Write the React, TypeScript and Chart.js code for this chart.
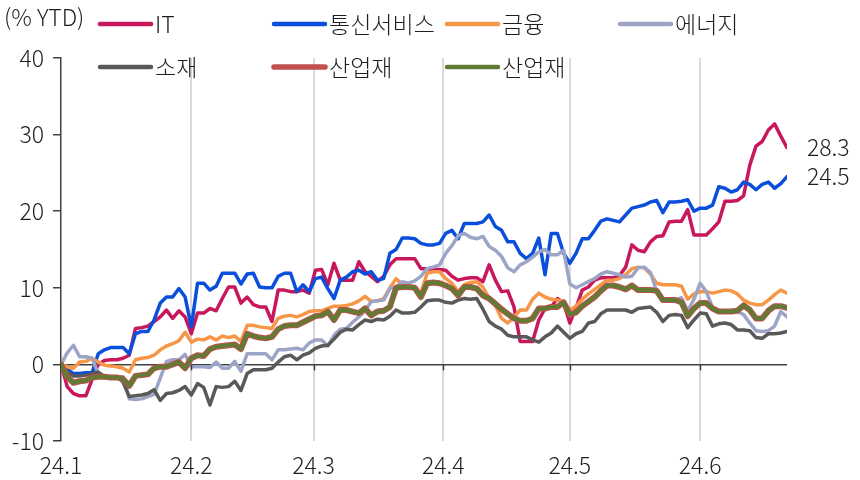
import React, { useEffect, useRef } from "react";
import { Chart, registerables } from "chart.js";

Chart.register(...registerables);

const monthLabels = ["24.1", "24.2", "24.3", "24.4", "24.5", "24.6"];
// trading-day index at which each month starts
const monthStarts = [0, 21, 40.7, 61.6, 82, 103];

const itValues = [
  0, -2.9, -3.8, -4.1, -4.1, -2.0, 0.0, 0.5, 0.6, 0.6, 0.8, 1.2, 4.7, 4.8, 5.0, 5.6, 6.2, 7.1, 6.0, 7.0,
  6.2, 4.0, 6.7, 6.7, 7.3, 7.0, 8.6, 10.1, 10.1, 8.0, 8.8, 7.8, 7.5, 7.5, 5.6, 9.7, 9.7, 9.5, 9.5, 9.7,
  9.3, 12.3, 12.4, 10.4, 13.2, 11.0, 11.0, 11.0, 13.4, 12.1, 11.5, 10.8, 11.5, 13.0, 13.8, 13.8, 13.8, 13.8, 12.5, 12.5,
  12.4, 12.4, 12.3, 11.5, 11.0, 11.2, 11.3, 11.3, 10.8, 13.0, 11.0, 9.5, 9.6, 7.5, 3.0, 3.0, 3.0, 5.8, 7.3, 7.5,
  8.6, 8.0, 5.4, 7.4, 9.7, 10.1, 11.0, 11.3, 11.3, 11.3, 11.6, 12.7, 15.6, 14.9, 14.7, 16.0, 16.7, 16.8, 18.6, 18.7,
  18.7, 20.2, 16.9, 16.9, 16.9, 17.7, 18.6, 21.3, 21.3, 21.4, 22.0, 26.0, 28.5, 29.1, 30.6, 31.4, 29.8, 28.3,
];

const telecomValues = [
  0, -0.6, -1.2, -1.2, -1.1, -1.1, 1.4, 1.9, 2.2, 2.2, 2.2, 1.4, 4.0, 4.3, 4.3, 5.8, 8.0, 8.8, 8.8, 9.9,
  8.8, 4.9, 10.6, 10.6, 9.7, 10.2, 11.9, 11.9, 11.9, 10.5, 11.8, 11.9, 10.1, 10.0, 10.0, 11.5, 11.9, 11.9, 9.5, 10.4,
  9.5, 11.2, 11.4, 9.9, 8.6, 11.0, 11.4, 12.1, 12.3, 11.8, 12.1, 11.0, 11.2, 14.5, 15.0, 16.5, 16.5, 16.4, 15.8, 15.6,
  15.6, 15.8, 17.1, 17.5, 16.4, 18.4, 18.4, 18.4, 18.6, 19.5, 18.0, 17.5, 16.0, 16.0, 14.5, 13.8, 14.5, 16.5, 11.7, 17.1,
  17.1, 14.5, 13.2, 14.5, 16.4, 16.4, 17.5, 18.7, 19.0, 18.8, 18.6, 19.5, 20.4, 20.6, 20.8, 21.2, 21.4, 19.8, 21.2, 21.2,
  21.3, 21.5, 20.0, 20.4, 20.4, 20.8, 23.2, 23.0, 22.5, 22.8, 23.8, 23.5, 22.8, 23.5, 23.8, 23.0, 23.6, 24.5,
];

const financeValues = [
  0, -0.3, -0.5, 0.3, 0.4, 0.8, 0.3, -0.1, -0.2, -0.3, -0.5, -1.0, 0.6, 0.8, 0.9, 1.2, 1.9, 2.4, 2.7, 3.1,
  4.2, 2.9, 3.3, 3.2, 3.6, 3.2, 3.7, 3.5, 3.7, 3.0, 5.1, 5.1, 4.9, 4.8, 4.7, 6.0, 6.3, 6.4, 6.2, 6.5,
  6.9, 7.0, 7.0, 7.3, 7.6, 7.6, 7.7, 7.9, 8.3, 8.9, 8.2, 8.3, 8.6, 10.0, 11.2, 10.4, 10.2, 10.0, 9.3, 11.9,
  12.1, 12.1, 11.2, 10.6, 9.5, 10.4, 10.7, 10.8, 10.1, 8.6, 7.7, 6.0, 5.4, 6.2, 7.1, 7.1, 8.5, 9.3, 8.8, 8.5,
  8.4, 8.2, 7.1, 7.6, 8.5, 9.2, 9.8, 10.4, 11.0, 11.0, 11.2, 11.7, 12.5, 12.7, 12.6, 11.8, 10.6, 10.4, 10.4, 10.4,
  10.2, 8.5, 9.2, 9.5, 9.5, 9.3, 9.5, 9.7, 9.6, 9.2, 8.4, 8.0, 7.8, 7.8, 8.4, 9.1, 9.7, 9.3,
];

const energyValues = [
  0, 1.5, 2.5, 1.0, 1.0, 0.8, -1.2, -1.6, -1.8, -1.6, -1.6, -4.5, -4.6, -4.5, -4.2, -3.9, -1.8, 0.4, 0.6, 0.6,
  1.3, -0.3, -0.3, -0.3, -0.4, 0.3, -0.5, -0.5, 0.4, -0.9, 1.4, 1.4, 1.4, 1.4, 0.6, 1.9, 1.9, 2.0, 2.1, 1.9,
  2.8, 3.2, 3.2, 2.4, 3.8, 4.6, 4.7, 5.5, 6.2, 7.0, 8.2, 8.3, 8.4, 9.9, 10.1, 10.8, 10.6, 10.9, 11.5, 12.5,
  12.7, 13.0, 14.5, 15.5, 16.8, 17.1, 16.6, 16.4, 16.7, 15.4, 14.9, 14.1, 12.6, 12.1, 13.0, 13.4, 14.0, 14.7, 15.0, 14.3,
  14.3, 14.9, 10.5, 10.0, 10.4, 10.8, 11.2, 11.8, 12.1, 11.9, 11.7, 11.4, 11.5, 12.6, 12.7, 12.0, 9.5, 8.4, 8.4, 8.4,
  8.7, 7.0, 8.5, 10.6, 9.5, 7.4, 6.9, 6.9, 6.9, 6.9, 6.5, 5.4, 4.4, 4.3, 4.4, 5.0, 6.9, 6.2,
];

const materialsValues = [
  0, -1.0, -1.5, -1.5, -1.4, -1.2, -1.0, -1.6, -1.6, -1.6, -2.3, -4.2, -4.1, -4.0, -3.8, -3.3, -4.7, -3.8, -3.7, -3.4,
  -2.9, -4.0, -2.5, -3.0, -5.3, -2.9, -3.0, -2.9, -2.2, -3.4, -1.2, -0.7, -0.7, -0.7, -0.5, 0.3, 1.0, 1.2, 0.6, 1.2,
  1.5, 2.1, 2.4, 2.5, 3.3, 4.2, 4.6, 4.5, 5.2, 5.8, 5.6, 5.9, 5.8, 6.3, 7.1, 6.7, 6.7, 6.8, 7.5, 8.3,
  8.4, 8.4, 8.1, 8.0, 8.4, 8.6, 8.5, 8.6, 7.2, 5.6, 5.0, 4.6, 3.8, 3.6, 3.6, 3.6, 3.2, 2.9, 3.6, 4.1,
  5.0, 4.2, 3.4, 4.0, 4.3, 5.4, 5.6, 6.6, 7.1, 7.1, 7.1, 7.1, 6.8, 7.3, 7.4, 7.5, 6.8, 5.6, 6.4, 6.5,
  6.4, 4.8, 5.8, 6.7, 6.6, 5.0, 5.3, 5.4, 5.2, 4.5, 4.5, 4.4, 3.5, 3.4, 4.0, 4.0, 4.1, 4.3,
];

const industrialsValues = [
  0, -1.6, -2.4, -2.2, -2.1, -1.7, -1.6, -1.6, -1.7, -1.7, -1.9, -2.8, -1.5, -1.4, -1.3, -0.5, -0.3, -0.3, 0.0, 0.3,
  -0.5, 0.8, 1.2, 1.1, 2.0, 2.3, 2.4, 2.5, 2.6, 2.0, 4.0, 3.7, 3.5, 3.4, 3.6, 4.6, 5.0, 5.1, 5.1, 5.5,
  5.9, 6.3, 6.4, 6.9, 5.8, 7.1, 7.1, 6.9, 6.7, 7.3, 6.4, 6.9, 7.0, 7.5, 10.0, 10.1, 10.1, 10.0, 8.8, 10.6,
  10.7, 10.6, 10.3, 9.9, 9.0, 10.1, 10.1, 9.9, 9.0, 8.6, 7.9, 7.2, 6.6, 6.0, 5.7, 5.7, 6.0, 7.3, 7.3, 7.5,
  7.5, 8.1, 6.5, 6.8, 7.6, 8.2, 8.8, 9.6, 10.3, 10.3, 10.1, 9.8, 10.3, 9.7, 9.7, 9.7, 9.6, 8.4, 8.4, 8.4,
  8.1, 6.3, 7.3, 8.0, 8.0, 7.3, 6.9, 6.9, 6.9, 7.0, 7.7, 7.1, 6.0, 6.0, 7.0, 7.6, 7.6, 7.4,
];

const seriesNames = ["IT", "통신서비스", "금융", "에너지", "소재", "산업재", "산업재"];
const seriesColors = ["#c8175d", "#0a4fdc", "#f79646", "#9da5c6", "#595959", "#c0504d", "#617b35"];
const seriesWidths = [3.5, 3.5, 3.5, 3.5, 3.5, 6, 4];
const seriesData = [itValues, telecomValues, financeValues, energyValues, materialsValues, industrialsValues, industrialsValues];
const endLabelSeries = [0, 1];

const FONT = '"Noto Sans CJK KR", "Noto Sans", sans-serif';
const TEXT = "#1e1e1e";

const overlayPlugin = {
  id: "overlay",
  afterDatasetsDraw(chart: any) {
    const { ctx, scales, chartArea } = chart;
    const xs = scales.x;
    const ys = scales.y;
    const y0 = ys.getPixelForValue(0);
    ctx.save();
    // small ticks on the zero line
    ctx.strokeStyle = "#404040";
    ctx.lineWidth = 1.5;
    monthStarts.forEach((m, i) => {
      if (i === 0) return;
      const x = Math.round(xs.getPixelForValue(m)) + 0.5;
      ctx.beginPath();
      ctx.moveTo(x, y0);
      ctx.lineTo(x, y0 + 6);
      ctx.stroke();
    });
    // end labels
    ctx.fillStyle = TEXT;
    ctx.font = `300 23px ${FONT}`;
    ctx.textAlign = "left";
    ctx.textBaseline = "middle";
    endLabelSeries.forEach((s) => {
      const arr = seriesData[s];
      const v = arr[arr.length - 1];
      ctx.fillText(v.toFixed(1), chartArea.right + 20, ys.getPixelForValue(v));
    });
    ctx.restore();
  },
  afterDraw(chart: any) {
    const { ctx } = chart;
    ctx.save();
    ctx.fillStyle = TEXT;
    ctx.textBaseline = "middle";
    ctx.textAlign = "left";
    ctx.font = `300 23px ${FONT}`;
    ctx.fillText("(% YTD)", 4, 17);
    const slots = [
      [98, 24], [272, 24], [445, 24], [618, 24],
      [98, 67], [272, 67], [445, 67],
    ];
    seriesNames.forEach((name, i) => {
      const [x, y] = slots[i];
      ctx.strokeStyle = seriesColors[i];
      ctx.lineWidth = i === 5 ? 5.5 : 4.5;
      ctx.lineCap = "round";
      ctx.beginPath();
      ctx.moveTo(x + 2, y);
      ctx.lineTo(x + 53, y);
      ctx.stroke();
      ctx.fillStyle = TEXT;
      ctx.fillText(name, x + 57, y);
    });
    ctx.restore();
  },
};

export default function App() {
  const canvasRef = useRef<HTMLCanvasElement | null>(null);

  useEffect(() => {
    if (!canvasRef.current) return;
    const labels = itValues.map((_, i) => i);
    const chart = new Chart(canvasRef.current, {
      type: "line",
      data: {
        labels,
        datasets: seriesData.map((d, i) => ({
          label: seriesNames[i],
          data: d,
          borderColor: seriesColors[i],
          backgroundColor: seriesColors[i],
          borderWidth: seriesWidths[i],
          pointRadius: 0,
          tension: 0,
          fill: false,
          borderJoinStyle: "round" as const,
          borderCapStyle: "round" as const,
          order: seriesData.length - i,
        })),
      },
      options: {
        animation: false,
        responsive: true,
        maintainAspectRatio: false,
        layout: { padding: { left: 0, top: 58, right: 73, bottom: 0 } },
        plugins: { legend: { display: false }, tooltip: { enabled: false } },
        scales: {
          x: {
            type: "linear",
            min: 0,
            max: itValues.length - 1,
            afterBuildTicks: (axis: any) => {
              axis.ticks = monthStarts.map((v) => ({ value: v }));
            },
            afterFit: (axis: any) => {
              axis.height = 39;
            },
            ticks: {
              autoSkip: false,
              maxRotation: 0,
              padding: 10,
              color: TEXT,
              font: { family: FONT, size: 23, weight: "300" },
              callback: (_v: any, idx: number) => monthLabels[idx],
            },
            grid: {
              color: (c: any) => (c.tick && c.tick.value === 0 ? "rgba(0,0,0,0)" : "#d9d9d9"),
              lineWidth: 2,
              drawTicks: false,
            },
            border: { display: false },
          },
          y: {
            min: -10,
            max: 40,
            afterFit: (axis: any) => {
              axis.width = 61;
            },
            ticks: {
              stepSize: 10,
              padding: 9,
              color: TEXT,
              font: { family: FONT, size: 23, weight: "300" },
            },
            grid: {
              color: (c: any) => (c.tick && c.tick.value === 0 ? "#404040" : "rgba(0,0,0,0)"),
              lineWidth: 1.5,
              tickLength: 8,
              tickColor: "#404040",
              tickWidth: 1.5,
            },
            border: { display: true, color: "#404040", width: 1.5 },
          },
        },
      },
      plugins: [overlayPlugin],
    });
    return () => chart.destroy();
  }, []);

  return (
    <div style={{ position: "absolute", left: 0, top: 0, width: 860, height: 480, background: "#fff" }}>
      <canvas ref={canvasRef} />
    </div>
  );
}
